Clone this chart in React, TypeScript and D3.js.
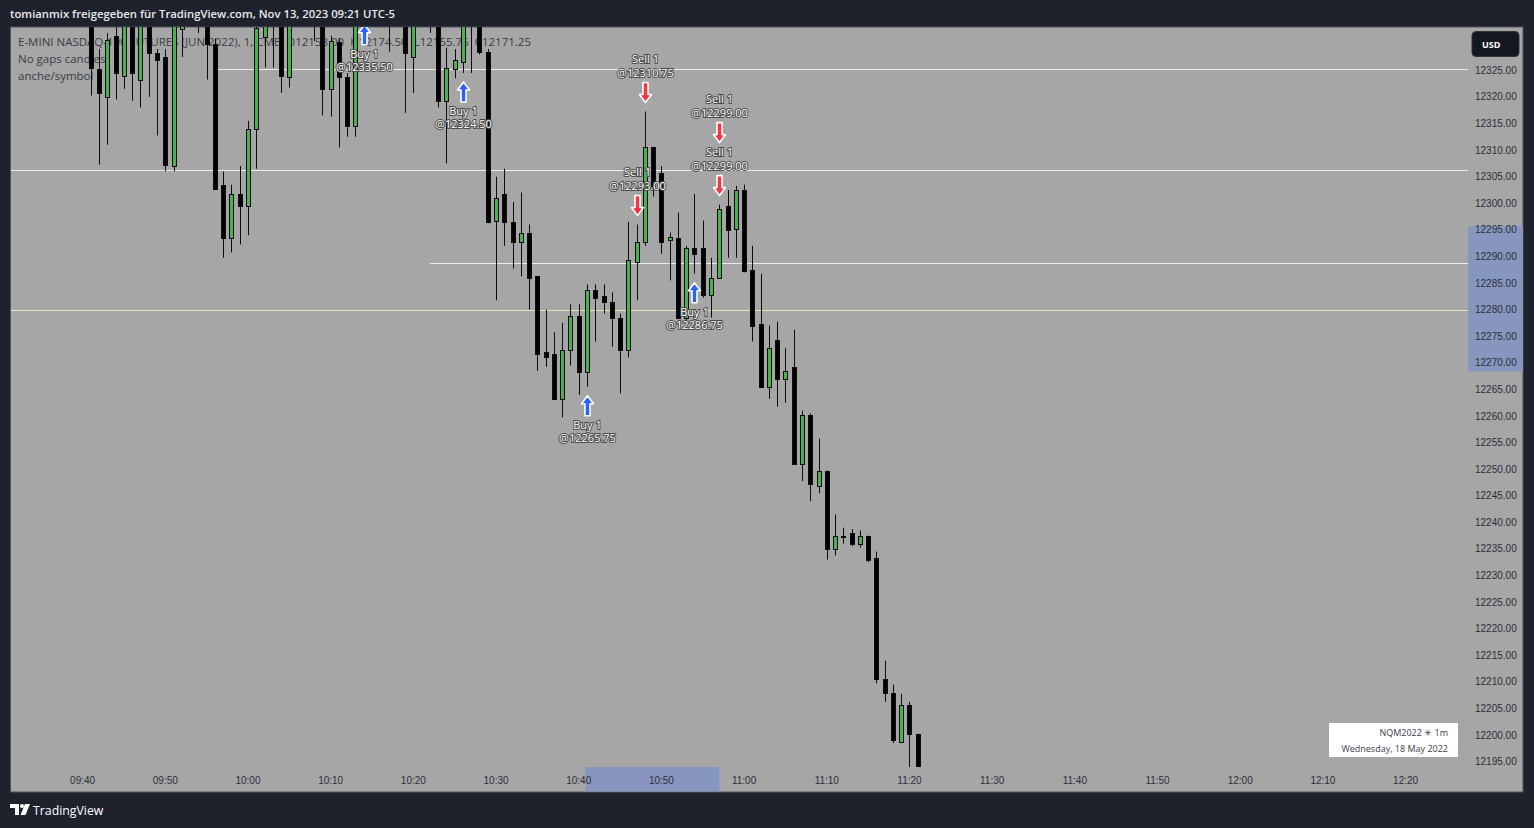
import React from 'react';
import * as d3 from 'd3';

const W = 1534;
const H = 828;

const TITLE = 'tomianmix freigegeben für TradingView.com, Nov 13, 2023 09:21 UTC-5';
const LEGEND_LINES = [
  'E-MINI NASDAQ-100 FUTURES (JUN 2022), 1, CME  O12158.00  H12174.50  L12155.75  C12171.25',
  'No gaps candles',
  'anche/symbol',
];
const BOX_LINES = ['NQM2022 \u2733 1m', 'Wednesday, 18 May 2022'];

// minutes after 09:40
const TIME_TICKS = [0, 10, 20, 30, 40, 50, 60, 70, 80, 90, 100, 110, 120, 130, 140, 150, 160];
const TIME_LABELS = ['09:40', '09:50', '10:00', '10:10', '10:20', '10:30', '10:40', '10:50', '11:00', '11:10', '11:20', '11:30', '11:40', '11:50', '12:00', '12:10', '12:20'];

const PRICE_TICKS = [12325, 12320, 12315, 12310, 12305, 12300, 12295, 12290, 12285, 12280, 12275, 12270, 12265, 12260, 12255, 12250, 12245, 12240, 12235, 12230, 12225, 12220, 12215, 12210, 12205, 12200, 12195];

// [minute, open, high, low, close]
const CANDLES: [number, number, number, number, number][] = [
  [1, 12336, 12337, 12320.25, 12325.5],
  [2, 12325.25, 12329, 12307.25, 12320.75],
  [3, 12320, 12332, 12311, 12330.75],
  [4, 12331.5, 12334, 12319.5, 12324.5],
  [5, 12324, 12336, 12321.5, 12335],
  [6, 12336, 12337, 12319.25, 12324.5],
  [7, 12323.25, 12336, 12318, 12335],
  [8, 12336, 12337, 12320, 12328.25],
  [9, 12328.25, 12329, 12312.75, 12327],
  [10, 12327.5, 12329, 12306, 12307.25],
  [11, 12307, 12336, 12306, 12334],
  [12, 12332.75, 12336, 12327.5, 12334],
  [13, 12336, 12340, 12334, 12338],
  [14, 12338, 12340, 12332, 12336],
  [15, 12336, 12338, 12323.25, 12330],
  [16, 12330, 12331, 12302.75, 12302.75],
  [17, 12303.5, 12306, 12289.75, 12293.5],
  [18, 12293.5, 12303.5, 12290.75, 12301.75],
  [19, 12301.75, 12307, 12292.25, 12299.5],
  [20, 12299.5, 12315.5, 12294, 12314],
  [21, 12314, 12335, 12306.5, 12333],
  [22, 12331.25, 12337, 12325.5, 12335],
  [23, 12337, 12338, 12325.5, 12335],
  [24, 12336, 12337, 12320.75, 12324],
  [25, 12323.75, 12336, 12321.75, 12335],
  [26, 12336, 12339, 12334, 12338],
  [27, 12338, 12340, 12334, 12336],
  [28, 12337, 12339, 12330.5, 12335],
  [29, 12336, 12337, 12316.5, 12321.5],
  [30, 12321.5, 12331.5, 12316.25, 12330.5],
  [31, 12330.25, 12331, 12310.5, 12323.75],
  [32, 12323.75, 12324.5, 12312.5, 12314.5],
  [33, 12314.5, 12336, 12312.5, 12334],
  [34, 12336, 12340, 12335.25, 12338],
  [35, 12338, 12342, 12335.5, 12340],
  [36, 12340, 12342, 12336, 12338],
  [37, 12337, 12339, 12328.5, 12335],
  [38, 12336, 12340, 12334, 12338],
  [39, 12336, 12337, 12317, 12328.25],
  [40, 12327.5, 12336, 12320.75, 12335],
  [41, 12336, 12340, 12334, 12338],
  [42, 12338, 12340, 12332, 12336],
  [43, 12337, 12338, 12318, 12319.25],
  [44, 12319.25, 12329.25, 12307.5, 12325.5],
  [45, 12325.25, 12329, 12323.5, 12327],
  [46, 12326.5, 12336, 12324.5, 12335],
  [47, 12336, 12339, 12324.5, 12337],
  [48, 12337, 12338, 12328, 12328.5],
  [49, 12328.5, 12329, 12296.25, 12296.5],
  [50, 12296.75, 12305, 12281.75, 12301],
  [51, 12301.75, 12306.5, 12292, 12296.5],
  [52, 12296.5, 12300.25, 12287.75, 12292.75],
  [53, 12292.75, 12302, 12286.25, 12294.5],
  [54, 12294.5, 12296, 12280, 12286],
  [55, 12286.25, 12286.25, 12268.5, 12271.75],
  [56, 12272, 12280, 12269.25, 12271],
  [57, 12271.75, 12275.75, 12263, 12263.25],
  [58, 12263.25, 12277.5, 12259.75, 12272.5],
  [59, 12272.5, 12281, 12269.5, 12278.75],
  [60, 12278.75, 12281, 12264, 12268.25],
  [61, 12268.25, 12284.75, 12265.5, 12283.75],
  [62, 12283.75, 12284.75, 12274, 12282.25],
  [63, 12282.5, 12284.75, 12279.25, 12281.5],
  [64, 12281.5, 12283.25, 12273, 12278.5],
  [65, 12278.5, 12279.25, 12264.25, 12272.5],
  [66, 12272.5, 12296.5, 12271, 12289.25],
  [67, 12289, 12296, 12281.75, 12292.75],
  [68, 12292.75, 12317.25, 12292, 12310.5],
  [69, 12310.5, 12310.5, 12301.25, 12303.25],
  [70, 12305.75, 12307, 12290.5, 12292.75],
  [71, 12293, 12294.5, 12285.5, 12293.75],
  [72, 12293.5, 12298.25, 12278.5, 12278.5],
  [73, 12278.5, 12292, 12277.5, 12291.5],
  [74, 12291.5, 12301.75, 12286.75, 12290.5],
  [75, 12291.5, 12296.75, 12282.25, 12282.75],
  [76, 12282.75, 12289.75, 12278.5, 12286],
  [77, 12286, 12299.75, 12286, 12299],
  [78, 12299.5, 12302.5, 12289.75, 12295],
  [79, 12295.25, 12303.25, 12289.75, 12302.5],
  [80, 12302.5, 12303.5, 12287, 12287.25],
  [81, 12287.5, 12292, 12274, 12277],
  [82, 12277.25, 12286.75, 12265.5, 12265.5],
  [83, 12265.5, 12277, 12263.25, 12272.75],
  [84, 12274.25, 12277.75, 12261.75, 12267],
  [85, 12267, 12272.75, 12262.5, 12268.5],
  [86, 12269.25, 12276.25, 12251, 12251],
  [87, 12251, 12261, 12247.75, 12260.25],
  [88, 12260.25, 12260.5, 12244, 12247.25],
  [89, 12246.75, 12255.75, 12245.5, 12249.75],
  [90, 12249.75, 12249.75, 12233, 12235],
  [91, 12235, 12241.5, 12233.75, 12237.5],
  [92, 12237.5, 12239, 12236, 12237.5],
  [93, 12238, 12238.75, 12235.5, 12236],
  [94, 12236, 12238.5, 12235.25, 12237.5],
  [95, 12237.5, 12237.5, 12232.5, 12233],
  [96, 12233.25, 12234.5, 12209.75, 12210.5],
  [97, 12210.5, 12214, 12206.25, 12208],
  [98, 12208, 12209.5, 12198.5, 12199],
  [99, 12198.75, 12207.75, 12198.5, 12205.75],
  [100, 12205.75, 12206.25, 12194, 12200.25],
  [101, 12200.25, 12200.25, 12190, 12192],
];

// [minute, fill price]
const BUY_MARKS: [number, number][] = [
  [34, 12335.5],
  [46, 12324.5],
  [61, 12265.75],
  [74, 12286.75],
];
const SELL_MARKS: [number, number][] = [
  [67, 12293.0],
  [68, 12310.75],
  [77, 12299.0],
  [77, 12299.0],
];

// [price, start minute (null = from left edge), kind]
const LEVELS: [number, number | null, string][] = [
  [12325.25, 16.4, 'white'],
  [12306.25, null, 'white'],
  [12288.75, 42, 'white'],
  [12280.0, null, 'yellow'],
];

const HIGHLIGHT_PRICES: [number, number] = [12268.4, 12295.7];
const HIGHLIGHT_MINUTES: [number, number] = [60.8, 77];

const DARK = '#1e222d';
const PANEL = '#a6a6a6';
const AXIS_TEXT = '#2b2f3a';
const GREEN = '#4caf50';
const FONT = '"Liberation Sans", Arial, sans-serif';
const UI_FONT = '"Open Sans", "Noto Sans", sans-serif';

const PL = 10.5, PT = 27, PR = 1468, PB = 767, PANEL_R = 1523, PANEL_B = 792;

function upArrow(cx: number, tipY: number) {
  return `M${cx},${tipY} L${cx + 6},${tipY + 8} L${cx + 2.5},${tipY + 8} L${cx + 2.5},${tipY + 20} L${cx - 2.5},${tipY + 20} L${cx - 2.5},${tipY + 8} L${cx - 6},${tipY + 8} Z`;
}
function downArrow(cx: number, tipY: number) {
  return `M${cx},${tipY} L${cx + 6},${tipY - 8} L${cx + 2.5},${tipY - 8} L${cx + 2.5},${tipY - 20} L${cx - 2.5},${tipY - 20} L${cx - 2.5},${tipY - 8} L${cx - 6},${tipY - 8} Z`;
}

export default function App() {
  const x = d3.scaleLinear().domain([0, 160]).range([82.6, 1405.6]);
  const y = d3.scaleLinear().domain([12195, 12325]).range([761.7, 70.3]);
  const byMinute = new Map<number, [number, number, number, number, number]>();
  CANDLES.forEach((c) => byMinute.set(c[0], c));

  const labelStyle: React.CSSProperties = {
    paintOrder: 'stroke',
  } as any;

  const sellCount = new Map<number, number>();
  const buyCount = new Map<number, number>();

  return (
    <svg width={W} height={H} style={{ position: 'absolute', left: 0, top: 0, display: 'block' }}>
      <defs>
        <clipPath id="plotClip">
          <rect x={PL} y={PT} width={PR - PL} height={PB - PT} />
        </clipPath>
      </defs>
      <rect x={0} y={0} width={W} height={H} fill={DARK} />
      <text x={10} y={18} fill="#e8e9ec" fontFamily={UI_FONT} fontSize={11.3} fontWeight={600}>{TITLE}</text>

      <rect x={PL} y={PT} width={PANEL_R - PL} height={PANEL_B - PT} fill={PANEL} stroke="#50535e" strokeWidth={1} />

      {/* axis highlights */}
      <rect x={PR} y={y(HIGHLIGHT_PRICES[1])} width={PANEL_R - PR} height={y(HIGHLIGHT_PRICES[0]) - y(HIGHLIGHT_PRICES[1])} fill="#8796be" />
      <rect x={x(HIGHLIGHT_MINUTES[0])} y={PB} width={x(HIGHLIGHT_MINUTES[1]) - x(HIGHLIGHT_MINUTES[0])} height={PANEL_B - PB - 0.5} fill="#8796be" />

      {/* legend */}
      {LEGEND_LINES.map((t, i) => (
        <text key={t} x={18} y={46 + i * 17} fill="#3a3d45" fontFamily={UI_FONT} fontSize={11.5} style={{ whiteSpace: 'pre' }}>{t}</text>
      ))}

      <g clipPath="url(#plotClip)">
        {LEVELS.map(([p, from, kind], i) => {
          const yy = Math.round(y(p)) + 0.5;
          return (
            <line key={i} x1={from === null ? PL : x(from)} x2={PR} y1={yy} y2={yy}
              stroke={kind === 'yellow' ? '#e9e6b4' : '#ececec'} strokeWidth={1} />
          );
        })}
        {CANDLES.map(([m, o, h, l, c]) => {
          const px = Math.round(x(m));
          const up = c > o;
          const top = Math.round(y(Math.max(o, c)));
          const bot = Math.round(y(Math.min(o, c)));
          const hgt = Math.max(bot - top, 1);
          return (
            <g key={m}>
              <line x1={px + 0.5} x2={px + 0.5} y1={y(h)} y2={y(l)} stroke="#0d0d0d" strokeWidth={1} />
              <rect x={px - 1.5} y={top + 0.5} width={4} height={hgt} fill={up ? GREEN : '#000'} stroke="#0d0d0d" strokeWidth={1} />
            </g>
          );
        })}
        {BUY_MARKS.map(([m, price], k) => {
          const bar = byMinute.get(m)!;
          const n = buyCount.get(m) || 0;
          buyCount.set(m, n + 1);
          const cx = Math.round(x(m)) + 0.5;
          const tip = y(bar[3]) + 9 + n * 53;
          return (
            <g key={'b' + k}>
              <path d={upArrow(cx, tip)} fill="#2962ff" stroke="#ffffff" strokeWidth={1.6} strokeLinejoin="round" />
              <text x={cx} y={tip + 33} textAnchor="middle" fill="#ffffff" stroke="#4a4a4a" strokeWidth={2} fontFamily={UI_FONT} fontSize={11} style={labelStyle}>Buy 1</text>
              <text x={cx} y={tip + 46} textAnchor="middle" fill="#ffffff" stroke="#4a4a4a" strokeWidth={2} fontFamily={UI_FONT} fontSize={11} style={labelStyle}>{'@' + price.toFixed(2)}</text>
            </g>
          );
        })}
        {SELL_MARKS.map(([m, price], k) => {
          const bar = byMinute.get(m)!;
          const n = sellCount.get(m) || 0;
          sellCount.set(m, n + 1);
          const cx = Math.round(x(m)) + 0.5;
          const tip = y(bar[2]) - 9 - n * 53;
          return (
            <g key={'s' + k}>
              <path d={downArrow(cx, tip)} fill="#f23645" stroke="#ffffff" strokeWidth={1.6} strokeLinejoin="round" />
              <text x={cx} y={tip - 40} textAnchor="middle" fill="#ffffff" stroke="#4a4a4a" strokeWidth={2} fontFamily={UI_FONT} fontSize={11} style={labelStyle}>Sell 1</text>
              <text x={cx} y={tip - 26} textAnchor="middle" fill="#ffffff" stroke="#4a4a4a" strokeWidth={2} fontFamily={UI_FONT} fontSize={11} style={labelStyle}>{'@' + price.toFixed(2)}</text>
            </g>
          );
        })}
      </g>

      {/* price axis */}
      {PRICE_TICKS.map((p) => (
        <text key={p} x={1475} y={y(p) + 3.5} fill={AXIS_TEXT} fontFamily={FONT} fontSize={10}>{p.toFixed(2)}</text>
      ))}
      {/* time axis */}
      {TIME_TICKS.map((t, i) => (
        <text key={t} x={x(t)} y={784} textAnchor="middle" fill={AXIS_TEXT} fontFamily={FONT} fontSize={10}>{TIME_LABELS[i]}</text>
      ))}

      {/* USD button */}
      <rect x={1472} y={31.5} width={47} height={25} rx={4} fill="#131722" stroke="#2e323d" />
      <text x={1482} y={47.5} fill="#ffffff" fontFamily={UI_FONT} fontSize={9} fontWeight={700}>USD</text>

      {/* info box */}
      <rect x={1329} y={723} width={129} height={34} fill="#ffffff" />
      <text x={1448} y={735.5} textAnchor="end" fill="#3a3d45" fontFamily={UI_FONT} fontSize={9}>{BOX_LINES[0]}</text>
      <text x={1448} y={751.5} textAnchor="end" fill="#3a3d45" fontFamily={UI_FONT} fontSize={9}>{BOX_LINES[1]}</text>

      {/* TradingView logo */}
      <g fill="#ffffff">
        <path d="M10,804 L19,804 L19,815 L15,815 L15,808 L10,808 Z" />
        <circle cx={22} cy={806} r={2} />
        <path d="M25,804 L30,804 L25.5,815 L20.5,815 Z" />
      </g>
      <text x={33} y={815} fill="#ffffff" fontFamily={UI_FONT} fontSize={12.3} fontWeight={500}>TradingView</text>
    </svg>
  );
}
